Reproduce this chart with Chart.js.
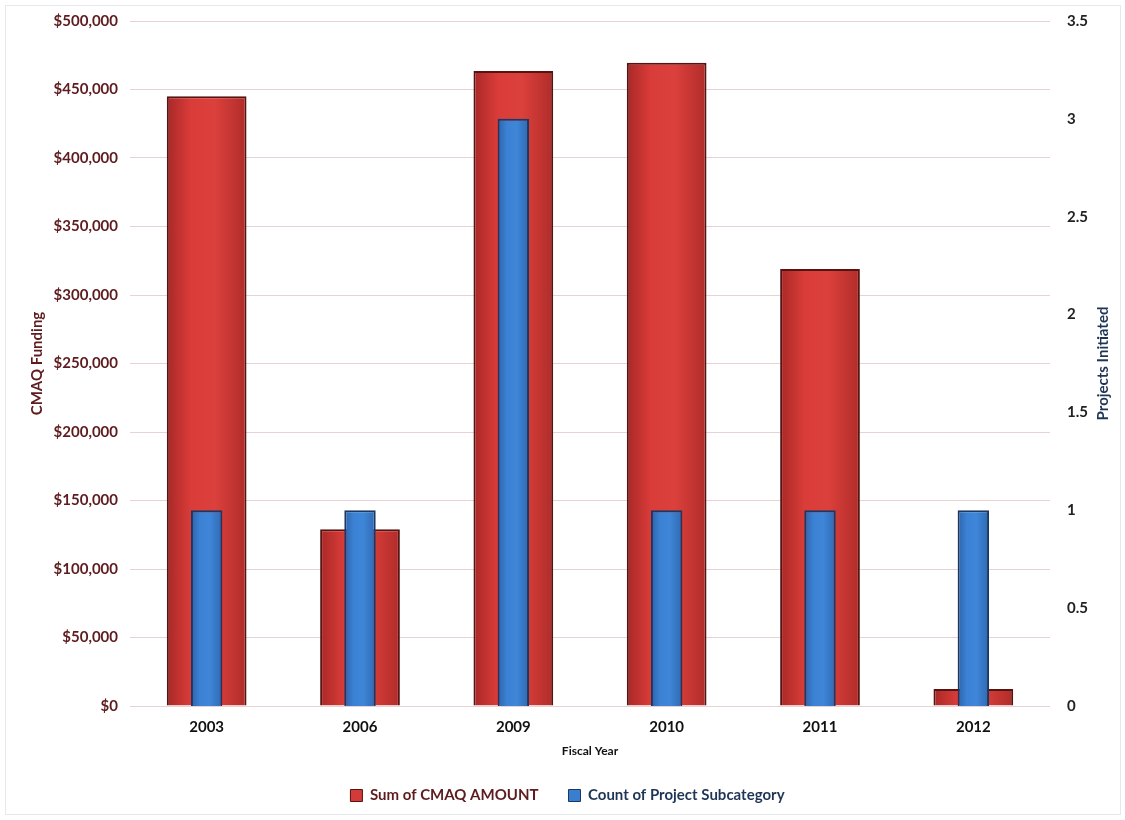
<!DOCTYPE html>
<html>
<head>
<meta charset="utf-8">
<script src="https://cdn.jsdelivr.net/npm/chart.js@4.4.1/dist/chart.umd.min.js"></script>
<style>
  html, body { margin: 0; padding: 0; background: #fff; }
  #wrap { position: relative; width: 1125px; height: 820px; }
  #frame { position: absolute; left: 5px; top: 5px; right: 4px; bottom: 5px; border: 1px solid #e6e8ec; }
  canvas { position: absolute; left: 0; top: 0; }
</style>
</head>
<body>
<div id="wrap">
  <div id="frame"></div>
  <canvas id="fundingChart" width="1125" height="820"></canvas>
</div>
<script>
const years = ["2003", "2006", "2009", "2010", "2011", "2012"];
const cmaqAmount = [445000, 129000, 463500, 469500, 319000, 12500];
const projectCount = [1, 1, 3, 1, 1, 1];

const redFill = "#d43a37";
const redEdge = "#571212";
const blueFill = "#3a7ecf";
const blueEdge = "#1c3862";
const maroon = "#5e1c1f";
const navy = "#1f3556";

// edge / centre shades for the cylinder-ish look of the bars
const shades = [
    ["#a82826", "#d93c39", "#dc403c", "#b02c29"],
    ["#2c64ab", "#3c82d4", "#3f86d8", "#2e69b2"]
];

Chart.defaults.font.family = "Lato, 'Open Sans', sans-serif";
Chart.defaults.font.weight = "bold";

const barShading = {
    id: "barShading",
    beforeDatasetsDraw(chart) {
        const c = chart.ctx;
        chart.data.datasets.forEach((ds, i) => {
            const s = shades[i];
            chart.getDatasetMeta(i).data.forEach(bar => {
                const left = bar.x - bar.width / 2;
                const g = c.createLinearGradient(left, 0, left + bar.width, 0);
                g.addColorStop(0, s[0]);
                g.addColorStop(0.3, s[1]);
                g.addColorStop(0.6, s[2]);
                g.addColorStop(1, s[3]);
                bar.options = Object.assign({}, bar.options, { backgroundColor: g });
            });
        });
    }
};

// fixed legend height so the bottom band lines up
const legendHeight = {
    id: "legendHeight",
    beforeLayout(chart) {
        const lg = chart.legend;
        if (!lg || lg._fixed) return;
        const fit = lg.fit;
        lg.fit = function () {
            fit.call(this);
            this.height = 62;
        };
        lg._fixed = true;
    }
};

// right axis title reads bottom-to-top, like the left one
const rightTitle = {
    id: "rightTitle",
    afterDraw(chart) {
        const c = chart.ctx;
        const a = chart.chartArea;
        c.save();
        c.translate(1103, (a.top + a.bottom) / 2);
        c.rotate(-Math.PI / 2);
        c.fillStyle = navy;
        c.font = "bold 15px Lato, sans-serif";
        c.textAlign = "center";
        c.textBaseline = "middle";
        c.fillText("Projects Initiated", 0, 0);
        c.restore();
    }
};

new Chart(document.getElementById("fundingChart"), {
    type: "bar",
    data: {
        labels: years,
        datasets: [{
            label: "Sum of CMAQ AMOUNT",
            data: cmaqAmount,
            yAxisID: "yFunding",
            backgroundColor: redFill,
            borderColor: redEdge,
            borderWidth: 2,
            barPercentage: 0.52,
            categoryPercentage: 1,
            grouped: false,
            order: 2
        }, {
            label: "Count of Project Subcategory",
            data: projectCount,
            yAxisID: "yCount",
            backgroundColor: blueFill,
            borderColor: blueEdge,
            borderWidth: 2,
            barPercentage: 0.205,
            categoryPercentage: 1,
            grouped: false,
            order: 1
        }]
    },
    options: {
        responsive: false,
        animation: false,
        layout: { padding: { top: 9, left: 20, right: 10, bottom: 0 } },
        plugins: {
            tooltip: { enabled: false },
            legend: {
                position: "bottom",
                labels: {
                    boxWidth: 12,
                    boxHeight: 12,
                    padding: 30,
                    font: { size: 15, weight: "bold" },
                    sort: (a, b) => a.datasetIndex - b.datasetIndex,
                    generateLabels(chart) {
                        const items = Chart.defaults.plugins.legend.labels.generateLabels(chart);
                        items.forEach(it => {
                            it.fontColor = it.datasetIndex === 0 ? maroon : navy;
                            it.lineWidth = 1;
                        });
                        return items;
                    }
                }
            }
        },
        scales: {
            x: {
                grid: { display: false },
                border: { display: false },
                ticks: { color: "#111", font: { size: 15 }, padding: 4 },
                title: { display: true, text: "Fiscal Year", color: "#111", font: { size: 12, weight: "bold" }, padding: { top: 0, bottom: 0 } },
                afterFit(scale) { scale.height = 52; }
            },
            yFunding: {
                position: "left",
                min: 0,
                max: 500000,
                ticks: {
                    stepSize: 50000,
                    color: maroon,
                    font: { size: 15 },
                    padding: 12,
                    callback: v => "$" + v.toLocaleString("en-US")
                },
                grid: { color: "#e8d2d4", lineWidth: 1, drawTicks: false },
                border: { display: false },
                title: { display: true, text: "CMAQ Funding", color: maroon, font: { size: 15, weight: "bold" }, padding: { top: 8, bottom: 4 } },
                afterFit(scale) { scale.width = 110; }
            },
            yCount: {
                position: "right",
                min: 0,
                max: 3.5,
                ticks: {
                    stepSize: 0.5,
                    color: "#222",
                    font: { size: 15 },
                    padding: 9,
                    callback: v => String(v)
                },
                grid: { display: false },
                border: { display: false },
                afterFit(scale) { scale.width = 65; }
            }
        }
    },
    plugins: [barShading, legendHeight, rightTitle]
});
</script>
</body>
</html>
